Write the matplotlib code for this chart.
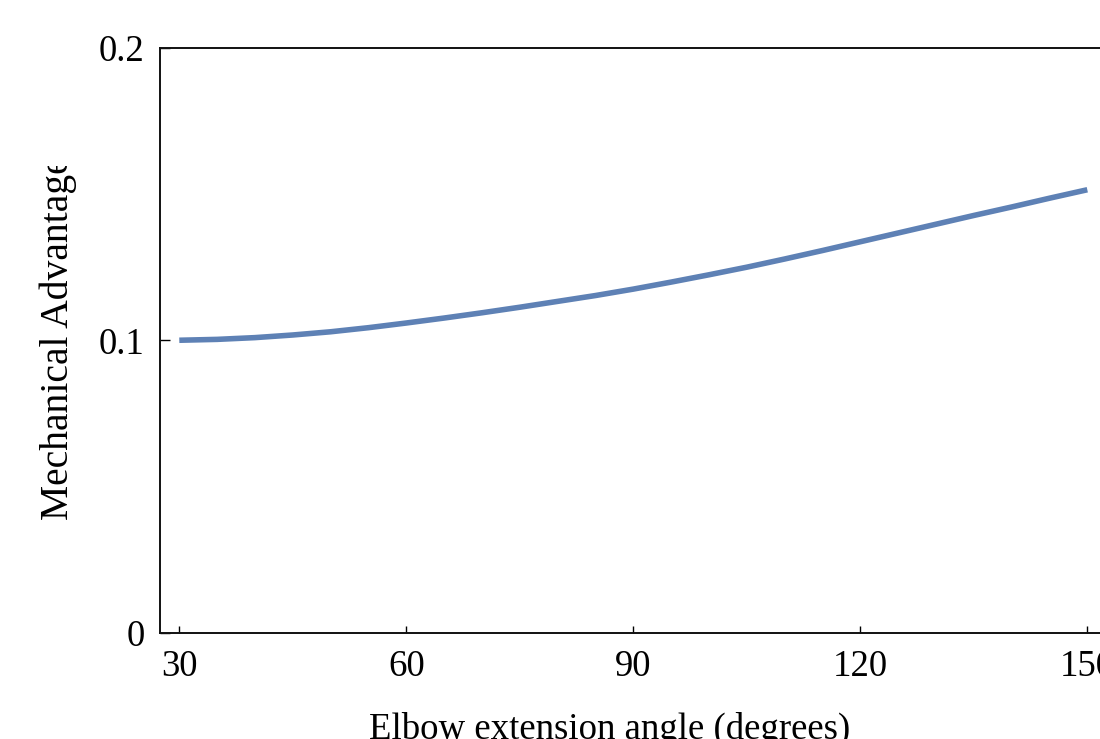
import matplotlib
matplotlib.use("Agg")
import matplotlib.pyplot as plt
from matplotlib.patches import Rectangle

# Data
angle_deg = [30, 35, 40, 45, 50, 55, 60, 65, 70, 75, 80, 85, 90,
             95, 100, 105, 110, 115, 120, 125, 130, 135, 140, 145, 150]
mech_adv = [0.1000, 0.1003, 0.1009, 0.1018, 0.1029, 0.1043, 0.1059, 0.1076,
            0.1094, 0.1113, 0.1133, 0.1153, 0.1175, 0.1199, 0.1224, 0.1250,
            0.1278, 0.1307, 0.1337, 0.1367, 0.1397, 0.1427, 0.1456, 0.1486,
            0.1515]
x_ticks = [30, 60, 90, 120, 150]
y_ticks = [0, 0.1, 0.2]
y_tick_labels = ["0", "0.1", "0.2"]

W, H = 1100, 739
fig = plt.figure(figsize=(W / 100, H / 100), dpi=100)
plt.rcParams['font.family'] = ['Liberation Serif', 'DejaVu Serif']

left_px, right_px, top_px, bottom_px = 160, 1106.6, 48, 632.5
ax = fig.add_axes([left_px / W, (H - bottom_px) / H,
                   (right_px - left_px) / W, (bottom_px - top_px) / H])

ax.plot(angle_deg, mech_adv, color='#5E81B5', linewidth=4.0,
        solid_capstyle='butt', solid_joinstyle='round')

ax.set_xlim(27.45, 152.55)
ax.set_ylim(0, 0.2)
ax.set_xticks(x_ticks)
ax.set_xticklabels([str(v) for v in x_ticks])
ax.set_yticks(y_ticks)
ax.set_yticklabels(y_tick_labels)
ax.minorticks_off()

ax.tick_params(axis='x', direction='in', length=5, width=1, pad=12,
               labelsize=26.5, colors='black')
ax.tick_params(axis='y', direction='in', length=7, width=1, pad=11,
               labelsize=26.5, colors='black')
ax.tick_params(top=False, right=False)
for s in ax.spines.values():
    s.set_linewidth(1.4)
    s.set_color('#111111')

fig.text(610 / W, 1 - 712 / H, "Elbow extension angle (degrees)",
         ha='center', va='top', fontsize=26.5, color='black')

yl = fig.text(58 / W, 1 - 520 / H, "Mechanical Advantage",
              rotation=90, ha='center', va='bottom', fontsize=28.5,
              color='black')
clip = Rectangle((0, 0), 1, 1 - 166 / H, transform=fig.transFigure,
                 visible=False)
fig.add_artist(clip)
yl.set_clip_path(clip)

fig.savefig("out.png", dpi=100)
